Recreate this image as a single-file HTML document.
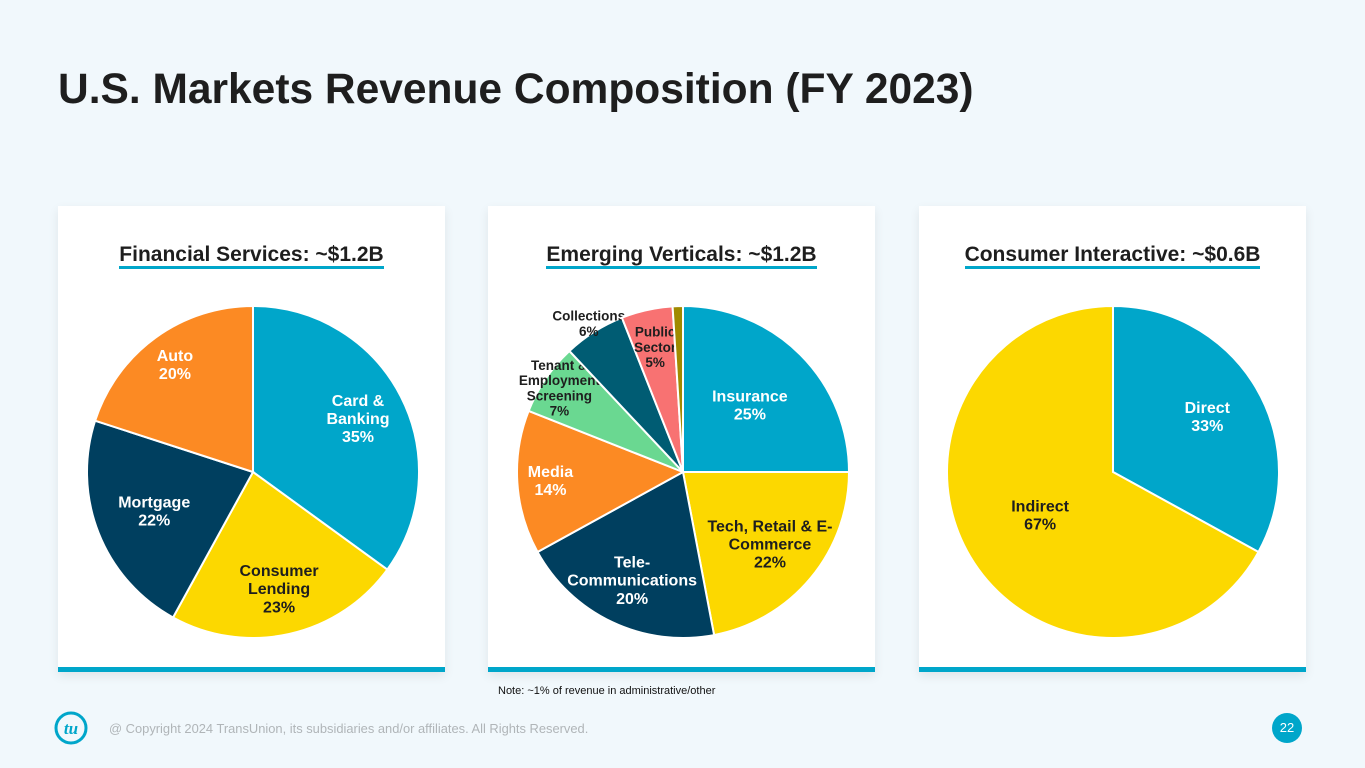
<!DOCTYPE html>
<html><head><meta charset="utf-8">
<style>
body{margin:0;width:1365px;height:768px;background:#f1f8fc;font-family:"Liberation Sans",Arial,sans-serif;overflow:hidden;position:relative}
.title{position:absolute;left:58px;top:66px;font-size:42.5px;font-weight:bold;color:#1e1e1e;margin:0}
.panel{position:absolute;top:206px;width:387px;height:466px;background:#fff;box-shadow:0 4px 10px rgba(0,0,0,0.08)}
.panel .bar{position:absolute;left:0;bottom:0;width:100%;height:5px;background:#00a6ca}
.ptitle{position:absolute;top:37px;left:0;width:100%;text-align:center;font-size:21px;font-weight:bold;color:#1e1e1e}
.ptitle span{border-bottom:3px solid #00a6ca;padding-bottom:0px}
svg{position:absolute;left:0;top:0}
.note{position:absolute;left:498px;top:685px;font-size:11px;color:#111}
.copy{position:absolute;left:109px;top:721px;font-size:12.9px;color:#b0b5b8}
.pg{position:absolute;left:1272px;top:713px;width:30px;height:30px;border-radius:50%;background:#00a6ca;color:#fff;font-size:13px;text-align:center;line-height:30px}
</style></head><body>
<h1 class="title">U.S. Markets Revenue Composition (FY 2023)</h1>
<div class="panel" style="left:58px"><div class="ptitle"><span>Financial Services: ~$1.2B</span></div><div class="bar"></div></div>
<div class="panel" style="left:488px"><div class="ptitle"><span>Emerging Verticals: ~$1.2B</span></div><div class="bar"></div></div>
<div class="panel" style="left:919px"><div class="ptitle"><span>Consumer Interactive: ~$0.6B</span></div><div class="bar"></div></div>
<svg id="charts" width="1365" height="768"></svg>
<div class="note">Note: ~1% of revenue in administrative/other</div>
<svg width="40" height="40" style="left:52px;top:708px"><circle cx="19" cy="20" r="15" fill="none" stroke="#00a6ca" stroke-width="3"/><text x="19" y="26" font-family="Liberation Serif" font-style="italic" font-weight="bold" font-size="17" fill="#00a6ca" text-anchor="middle">tu</text></svg>
<div class="copy">@ Copyright 2024 TransUnion, its subsidiaries and/or affiliates.  All Rights Reserved.</div>
<div class="pg">22</div>
<script>
const fsLabels=[["Card &","Banking","35%"],["Consumer","Lending","23%"],["Mortgage","22%"],["Auto","20%"]];
const fsValues=[35,23,22,20];
const fsColors=["#00a6ca","#fcd800","#003f5f","#fc8a23"];
const fsText=["#fff","#1e1e1e","#fff","#fff"];
const fsLabelR=[0.71,0.72,0.64,0.8];
const evLabels=[["Insurance","25%"],["Tech, Retail & E-","Commerce","22%"],["Tele-","Communications","20%"],["Media","14%"],["Tenant &","Employment","Screening","7%"],["Collections","6%"],["Public","Sector","5%"],[]];
const evValues=[25,22,20,14,7,6,5,1];
const evColors=["#00a6ca","#fcd800","#003f5f","#fc8a23","#6ad891","#005c73","#f87272","#a08a00"];
const evText=["#fff","#1e1e1e","#fff","#fff","#1e1e1e","#1e1e1e","#1e1e1e","#1e1e1e"];
const evLabelR=[0.57,0.68,0.72,0.8,0.9,1.06,0.77,0];
const ciLabels=[["Direct","33%"],["Indirect","67%"]];
const ciValues=[33,67];
const ciColors=["#00a6ca","#fcd800"];
const ciText=["#fff","#1e1e1e"];
const ciLabelR=[0.66,0.51];
const NS="http://www.w3.org/2000/svg";
const svg=document.getElementById('charts');
function pie(name,cx,cy,r,vals,cols,labs,txt,lr,fs){
  const tot=vals.reduce((a,b)=>a+b,0);let acc=0;
  vals.forEach((v,i)=>{
    const a0=acc/tot*2*Math.PI;acc+=v;const a1=acc/tot*2*Math.PI;
    const p=document.createElementNS(NS,'path');
    const x0=cx+r*Math.sin(a0),y0=cy-r*Math.cos(a0),x1=cx+r*Math.sin(a1),y1=cy-r*Math.cos(a1);
    p.setAttribute('d',`M${cx},${cy}L${x0},${y0}A${r},${r} 0 ${a1-a0>Math.PI?1:0} 1 ${x1},${y1}Z`);
    p.setAttribute('fill',cols[i]);p.setAttribute('stroke','#fff');p.setAttribute('stroke-width','2');
    
    
    svg.appendChild(p);
    const lines=labs[i];if(!lines.length)return;
    const am=(a0+a1)/2,lx=cx+r*lr[i]*Math.sin(am),ly=cy-r*lr[i]*Math.cos(am);
    const t=document.createElementNS(NS,'text');
    t.setAttribute('text-anchor','middle');t.setAttribute('font-weight','bold');t.setAttribute('font-size',fs[i]);
    t.setAttribute('fill',txt[i]);t.setAttribute('font-family','Liberation Sans, Arial, sans-serif');
    
    
    const lh=fs[i]*1.13,start=ly-(lines.length-1)*lh/2+fs[i]*0.35;
    lines.forEach((s,k)=>{const ts=document.createElementNS(NS,'tspan');ts.setAttribute('x',lx);ts.setAttribute('y',start+k*lh);ts.textContent=s;t.appendChild(ts);});
    svg.appendChild(t);
  });
}
pie('financial-services',253,472,166,fsValues,fsColors,fsLabels,fsText,fsLabelR,[16,16,16,16]);
pie('emerging-verticals',683,472,166,evValues,evColors,evLabels,evText,evLabelR,[16,16,16,16,13.5,13.5,13.5,12]);
pie('consumer-interactive',1113,472,166,ciValues,ciColors,ciLabels,ciText,ciLabelR,[16,16]);
</script>
</body></html>
